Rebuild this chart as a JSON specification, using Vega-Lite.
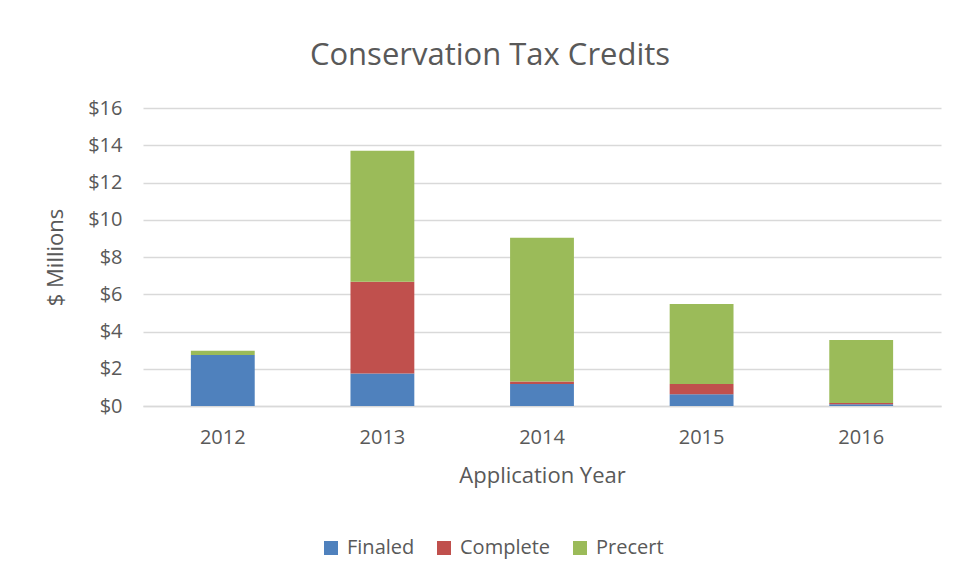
{
  "$schema": "https://vega.github.io/schema/vega-lite/v6.json",
  "width": 798,
  "height": 298,
  "autosize": {"type": "none"},
  "padding": {"left": 143, "top": 108, "right": 19, "bottom": 177},
  "background": "white",
  "title": {
    "text": "Conservation  Tax Credits",
    "anchor": "middle",
    "frame": "group",
    "dx": -52,
    "offset": 26,
    "fontSize": 31,
    "font": "Open Sans",
    "fontWeight": "normal",
    "color": "#595959"
  },
  "data": {
    "values": [
      {"year": "2012", "series": "Finaled", "value": 2.74},
      {"year": "2012", "series": "Complete", "value": 0.0},
      {"year": "2012", "series": "Precert", "value": 0.22},
      {"year": "2013", "series": "Finaled", "value": 1.74},
      {"year": "2013", "series": "Complete", "value": 4.93},
      {"year": "2013", "series": "Precert", "value": 7.04},
      {"year": "2014", "series": "Finaled", "value": 1.18},
      {"year": "2014", "series": "Complete", "value": 0.13},
      {"year": "2014", "series": "Precert", "value": 7.72},
      {"year": "2015", "series": "Finaled", "value": 0.63},
      {"year": "2015", "series": "Complete", "value": 0.55},
      {"year": "2015", "series": "Precert", "value": 4.30},
      {"year": "2016", "series": "Finaled", "value": 0.09},
      {"year": "2016", "series": "Complete", "value": 0.07},
      {"year": "2016", "series": "Precert", "value": 3.39}
    ]
  },
  "transform": [
    {"calculate": "indexof(['Finaled', 'Complete', 'Precert'], datum.series)", "as": "stackOrder"}
  ],
  "mark": {"type": "bar"},
  "encoding": {
    "x": {
      "field": "year",
      "type": "nominal",
      "scale": {"paddingInner": 0.6, "paddingOuter": 0.3},
      "axis": {
        "title": "Application Year",
        "labelAngle": 0,
        "domain": true,
        "domainColor": "#d9d9d9",
        "domainWidth": 1.5,
        "ticks": false,
        "labelPadding": 21,
        "titlePadding": 18
      }
    },
    "y": {
      "field": "value",
      "type": "quantitative",
      "stack": "zero",
      "scale": {"domain": [0, 16], "nice": false},
      "axis": {
        "title": "$ Millions",
        "values": [0, 2, 4, 6, 8, 10, 12, 14, 16],
        "labelExpr": "'$' + datum.value",
        "domain": false,
        "ticks": false,
        "grid": true,
        "gridColor": "#d9d9d9",
        "gridWidth": 1.5,
        "labelPadding": 21,
        "titlePadding": 20
      }
    },
    "order": {"field": "stackOrder", "type": "quantitative", "sort": "ascending"},
    "color": {
      "field": "series",
      "type": "nominal",
      "scale": {
        "domain": ["Finaled", "Complete", "Precert"],
        "range": ["#4f81bd", "#c0504d", "#9bbb59"]
      },
      "legend": {
        "title": null,
        "orient": "none",
        "direction": "horizontal",
        "legendX": 178,
        "legendY": 430,
        "symbolType": "square",
        "symbolSize": 196,
        "symbolStrokeWidth": 0,
        "labelOffset": 6,
        "columnPadding": 19,
        "labelFontSize": 20,
        "labelFont": "Open Sans",
        "labelColor": "#595959"
      }
    }
  },
  "config": {
    "view": {"stroke": null},
    "axis": {
      "labelFont": "Open Sans",
      "titleFont": "Open Sans",
      "labelFontSize": 20,
      "titleFontSize": 22,
      "titleFontWeight": "normal",
      "labelColor": "#595959",
      "titleColor": "#595959"
    }
  }
}
